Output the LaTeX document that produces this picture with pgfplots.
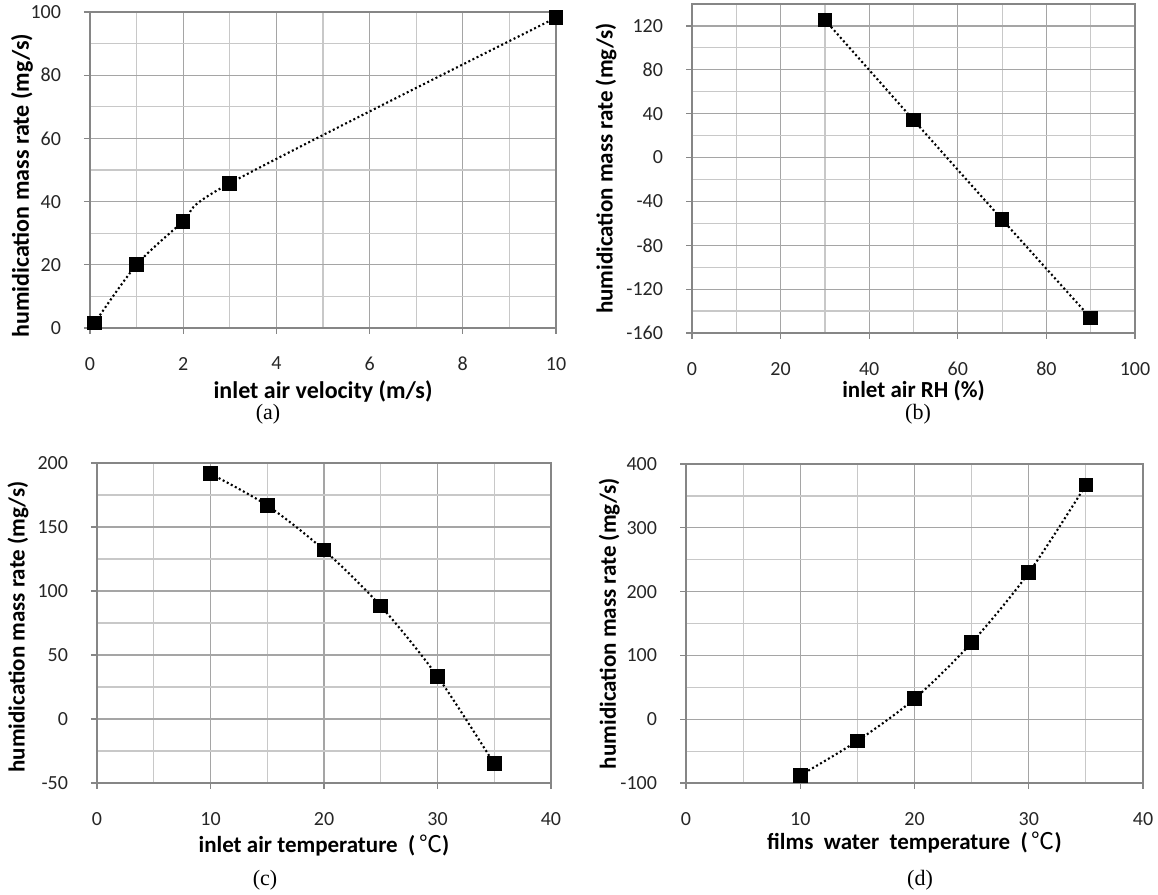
\documentclass[border=0pt]{standalone}
\usepackage{pgfplots}
\pgfplotsset{compat=1.18}
\usepackage{fontspec}
\setmainfont{Carlito}
\newfontfamily\timesf{Liberation Serif}
\newfontfamily\cjk{Noto Sans CJK SC}
\definecolor{framegray}{RGB}{134,134,134}
\definecolor{majgray}{RGB}{165,165,165}
\definecolor{mingray}{RGB}{200,200,200}
\pgfplotsset{
  panel/.style={
    scale only axis,
    axis line style={draw=framegray, line width=0.6pt},
    grid=both,
    major grid style={draw=majgray, line width=0.6pt},
    minor grid style={draw=mingray, line width=0.6pt},
    tick align=outside,
    tick pos=left,
    major tick length=3pt,
    minor tick length=0pt,
    tick style={draw=framegray, line width=0.6pt},
    minor tick num=1,
    /pgf/number format/assume math mode=true,
    ticklabel style={font=\fontsize{10}{12}\selectfont, text=black!85},
    xticklabel style={yshift=-8pt},
    yticklabel style={xshift=-8pt},
    label style={font=\bfseries\fontsize{11.5}{13}\selectfont},
    xlabel style={anchor=center},
    ylabel style={anchor=center},
  },
  dat/.style={black, line width=1.05pt, dash pattern=on 1pt off 1.3pt, smooth, tension=0.5,
    mark=square*, mark size=3.4pt, mark options={solid, fill=black, draw=black, line width=0pt}},
}
\begin{document}
\begin{tikzpicture}
\path[use as bounding box] (0,0) rectangle (579pt,447.5pt);
% (a)
\begin{axis}[panel, at={(45pt,283.5pt)}, anchor=south west, width=233pt, height=158pt,
  xmin=0, xmax=10, ymin=0, ymax=100,
  xtick={0,2,...,10}, ytick={0,20,...,100},
  xticklabels={0,2,4,6,8,10}, yticklabels={0,20,40,60,80,100},
  xlabel={inlet air velocity (m/s)},
  ylabel={humidication mass rate (mg/s)},
  label style={font=\bfseries\fontsize{12}{14}\selectfont},
  xlabel style={at={(axis description cs:0.5,-0.2)}},
  ylabel style={at={(axis description cs:-0.146,0.45)}},
]
\addplot[dat] coordinates {(0.1,1.6) (1,20) (2,33.7) (3,45.8) (10,98.2)};
\end{axis}
% (b)
\begin{axis}[panel, at={(346pt,281pt)}, anchor=south west, width=221.5pt, height=164.5pt,
  xmin=0, xmax=100, ymin=-160, ymax=140,
  xtick={0,20,...,100}, ytick={-160,-120,...,120},
  xticklabels={0,20,40,60,80,100},
  yticklabels={-160,-120,-80,-40,0,40,80,120},
  xlabel={inlet air RH (\%)},
  ylabel={humidication mass rate (mg/s)},
  xlabel style={at={(axis description cs:0.5,-0.175)}},
  ylabel style={at={(axis description cs:-0.194,0.5)}},
]
\addplot[dat] coordinates {(30,125.5) (50,34.2) (70,-56.5) (90,-146.3)};
\end{axis}
% (c)
\begin{axis}[panel, at={(48.5pt,56pt)}, anchor=south west, width=227pt, height=160pt,
  xmin=0, xmax=40, ymin=-50, ymax=200,
  xtick={0,10,...,40}, ytick={-50,0,...,200},
  xticklabels={0,10,20,30,40},
  yticklabels={-50,0,50,100,150,200},
  xlabel={inlet air temperature\ \ (\,{\mdseries\cjk ℃})},
  ylabel={humidication mass rate (mg/s)},
  xlabel style={at={(axis description cs:0.5,-0.194)}},
  ylabel style={at={(axis description cs:-0.174,0.4875)}},
]
\addplot[dat] coordinates {(10,191.6) (15,166.8) (20,132) (25,88.2) (30,33.2) (35,-35)};
\end{axis}
% (d)
\begin{axis}[panel, at={(343pt,56pt)}, anchor=south west, width=228.5pt, height=159.5pt,
  xmin=0, xmax=40, ymin=-100, ymax=400,
  xtick={0,10,...,40}, ytick={-100,0,...,400},
  xticklabels={0,10,20,30,40},
  yticklabels={-100,0,100,200,300,400},
  xlabel={films\ \ water\ \ temperature\ \ (\,{\mdseries\cjk ℃})},
  ylabel={humidication mass rate (mg/s)},
  xlabel style={at={(axis description cs:0.5,-0.188)}},
  ylabel style={at={(axis description cs:-0.168,0.5)}},
]
\addplot[dat] coordinates {(10,-88) (15,-34) (20,32) (25,120) (30,229.5) (35,367)};
\end{axis}
\node[font=\timesf\fontsize{11}{13}\selectfont] at (134pt,240.5pt) {(a)};
\node[font=\timesf\fontsize{11}{13}\selectfont] at (459pt,240.5pt) {(b)};
\node[font=\timesf\fontsize{11}{13}\selectfont] at (132.5pt,7.5pt) {(c)};
\node[font=\timesf\fontsize{11}{13}\selectfont] at (460pt,7.5pt) {(d)};
\end{tikzpicture}
\end{document}
